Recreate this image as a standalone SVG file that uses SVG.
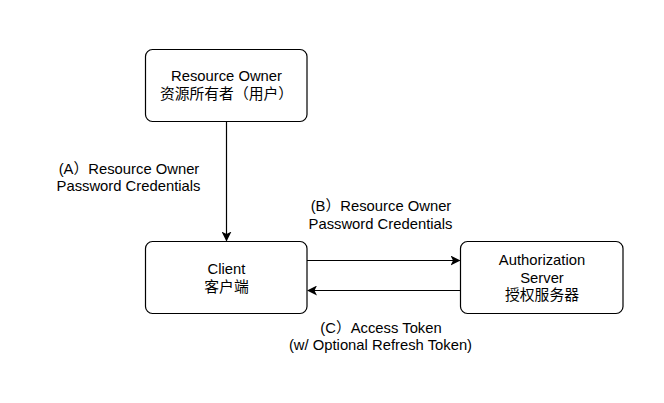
<svg xmlns="http://www.w3.org/2000/svg" width="664" height="403" viewBox="0 0 664 403">
<style>
.box{fill:#ffffff;stroke:#000000;stroke-width:1.2}
.t{font-family:"Liberation Sans","Noto Sans CJK SC",Arial,sans-serif;font-size:14.8px;fill:#000000;text-anchor:middle}
.edge{stroke:#000000;stroke-width:1.2;fill:none}
</style>
<defs>
<marker id="arr" viewBox="0 0 10 10" refX="9" refY="5" markerWidth="10" markerHeight="10" markerUnits="userSpaceOnUse" orient="auto">
<path d="M0,0 L10,5 L0,10 L2.5,5 Z" fill="#000000"/>
</marker>
</defs>
<rect width="664" height="403" fill="#ffffff"/>
<g id="connectors">
<line class="edge" x1="226.5" y1="121.5" x2="226.5" y2="240.5" marker-end="url(#arr)"/>
<line class="edge" x1="307" y1="260.5" x2="459.5" y2="260.5" marker-end="url(#arr)"/>
<line class="edge" x1="460.5" y1="290.5" x2="308" y2="290.5" marker-end="url(#arr)"/>
</g>
<g id="resource-owner">
<rect class="box" x="145.5" y="49.5" width="161.5" height="72" rx="7"/>
<text class="t" x="226.5" y="81">Resource Owner</text>
<text class="t" x="226.5" y="99">资源所有者（用户）</text>
</g>
<g id="client">
<rect class="box" x="145.5" y="241.5" width="161.5" height="72" rx="7"/>
<text class="t" x="226.5" y="274">Client</text>
<text class="t" x="226.5" y="292">客户端</text>
</g>
<g id="auth-server">
<rect class="box" x="460.5" y="241.5" width="162.5" height="72" rx="7"/>
<text class="t" x="542" y="265">Authorization</text>
<text class="t" x="542" y="282.5">Server</text>
<text class="t" x="542" y="300">授权服务器</text>
</g>
<g id="labels">
<text class="t" x="129" y="174">(A）Resource Owner</text>
<text class="t" x="128.5" y="191">Password Credentials</text>
<text class="t" x="381" y="211">(B）Resource Owner</text>
<text class="t" x="380.5" y="228.5">Password Credentials</text>
<text class="t" x="381" y="333">(C）Access Token</text>
<text class="t" x="380.5" y="350">(w/ Optional Refresh Token)</text>
</g>
</svg>
